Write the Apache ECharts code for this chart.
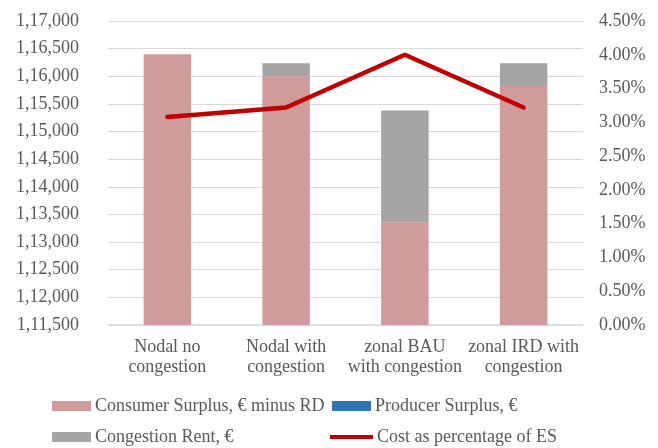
<!DOCTYPE html>
<html>
<head>
<meta charset="utf-8">
<script src="https://cdn.jsdelivr.net/npm/echarts@6/dist/echarts.min.js"></script>
<style>html,body{margin:0;padding:0;background:#fff;}#c{width:658px;height:448px;}</style>
</head>
<body>
<div id="c"></div>
<script>
const categories = ['Nodal no\ncongestion', 'Nodal with\ncongestion', 'zonal BAU\nwith congestion', 'zonal IRD with\ncongestion'];
const consumerSurplus = [116400, 116000, 113360, 115840];
const producerSurplus = [0, 0, 0, 0];
const congestionRent = [0, 235, 2020, 395];
const costPct = [3.08, 3.22, 4.00, 3.22];

const seriesNames = ['Consumer Surplus, € minus RD', 'Producer Surplus, €', 'Congestion Rent, €', 'Cost as percentage of ES'];

function indianFormat(v) {
  const s = String(Math.round(v));
  if (s.length <= 3) return s;
  const last3 = s.slice(-3);
  let rest = s.slice(0, -3);
  const parts = [];
  while (rest.length > 2) { parts.unshift(rest.slice(-2)); rest = rest.slice(0, -2); }
  if (rest.length) parts.unshift(rest);
  return parts.join(',') + ',' + last3;
}

const font = 'Liberation Serif';
const txt = '#595959';
const chart = echarts.init(document.getElementById('c'));
const legendBase = {
  itemGap: 0,
  textStyle: { fontFamily: font, fontSize: 18, color: txt, padding: [0, 0, 0, -1] },
  itemWidth: 39, itemHeight: 10, padding: 0, selectedMode: false
};
chart.setOption({
  animation: false,
  grid: { left: 108, right: 75, top: 21, bottom: 123 },
  legend: [
    Object.assign({}, legendBase, { data: [{ name: seriesNames[0], icon: 'rect' }], left: 52, top: 397 }),
    Object.assign({}, legendBase, { data: [{ name: seriesNames[1], icon: 'rect' }], left: 332, top: 397 }),
    Object.assign({}, legendBase, { data: [{ name: seriesNames[2], icon: 'rect' }], left: 52, top: 428 }),
    Object.assign({}, legendBase, { data: [{ name: seriesNames[3], icon: 'rect' }], left: 330, top: 428, itemWidth: 43, itemHeight: 4 })
  ],
  xAxis: {
    type: 'category', data: categories,
    axisLine: { lineStyle: { color: '#D9D9D9', width: 1.5 } },
    axisTick: { show: false },
    axisLabel: { fontFamily: font, fontSize: 18, color: txt, lineHeight: 20, margin: 12, interval: 0 }
  },
  yAxis: [
    {
      type: 'value', min: 111500, max: 117000, interval: 500,
      axisLine: { show: false }, axisTick: { show: false },
      splitLine: { lineStyle: { color: '#D9D9D9', width: 1 } },
      axisLabel: { fontFamily: font, fontSize: 18, color: txt, margin: 29, formatter: indianFormat }
    },
    {
      type: 'value', min: 0, max: 4.5, interval: 0.5,
      axisLine: { show: false }, axisTick: { show: false },
      splitLine: { show: false },
      axisLabel: { fontFamily: font, fontSize: 18, color: txt, margin: 16, formatter: v => v.toFixed(2) + '%' }
    }
  ],
  series: [
    { name: seriesNames[0], type: 'bar', stack: 's', data: consumerSurplus, barWidth: '40%', itemStyle: { color: '#D09B9B' } },
    { name: seriesNames[1], type: 'bar', stack: 's', data: producerSurplus, barWidth: '40%', itemStyle: { color: '#2E75B6' } },
    { name: seriesNames[2], type: 'bar', stack: 's', data: congestionRent, barWidth: '40%', itemStyle: { color: '#A5A5A5' } },
    { name: seriesNames[3], type: 'line', yAxisIndex: 1, data: costPct, symbol: 'none', lineStyle: { color: '#C00000', width: 4.5, cap: 'round', join: 'round' }, itemStyle: { color: '#C00000' } }
  ]
});
</script>
</body>
</html>
